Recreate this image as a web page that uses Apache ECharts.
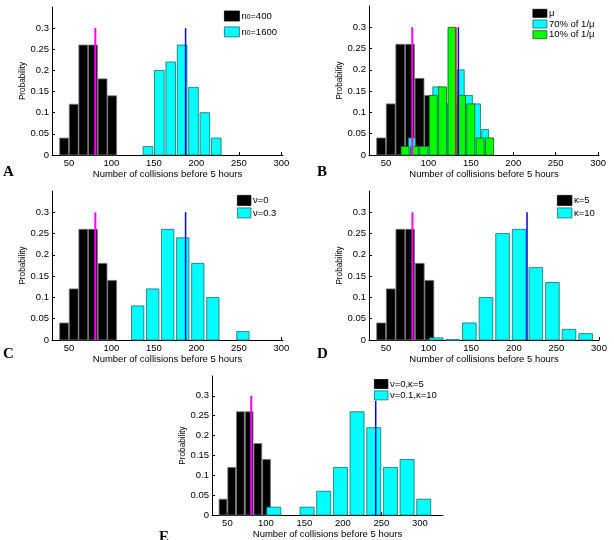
<!DOCTYPE html>
<html><head><meta charset="utf-8">
<script src="https://cdn.jsdelivr.net/npm/echarts@6/dist/echarts.min.js"></script>
<style>html,body{margin:0;padding:0;background:#fff}#c{width:614px;height:540px}</style>
</head><body><div id="c"></div>
<script>
// ---- data ----
const xTickValues = [50, 100, 150, 200, 250, 300];
const yTickValues = [0, 0.05, 0.1, 0.15, 0.2, 0.25, 0.3];

// baseline histogram (black), identical in all panels
const baseCenters = [44.3, 55.6, 66.9, 78.2, 89.5, 100.8];
const baseValues  = [0.04, 0.12, 0.26, 0.26, 0.18, 0.14];
const baseBin = 11.3;
const baseMean = 81;

// panel A
const aCenters = [143, 156.4, 169.8, 183.2, 196.6, 210, 223.4];
const aValues  = [0.02, 0.20, 0.22, 0.26, 0.16, 0.10, 0.04];
const aBin = 13.4;
const aMean = 187.3;

// panel B
const bCyanCenters = [80.5, 90.1, 99.7, 109.3, 118.9, 128.5, 138.1, 147.7, 157.3, 166.9];
const bCyanValues  = [0.04, 0.02, 0.02, 0.16, 0.12, 0.12, 0.20, 0.14, 0.12, 0.06];
const bCyanBin = 9.6;
const bGreenCenters = [72.5, 83.6, 94.6, 105.7, 116.7, 127.8, 138.9, 149.9, 161, 172];
const bGreenValues  = [0.02, 0.02, 0.02, 0.14, 0.16, 0.30, 0.14, 0.12, 0.04, 0.04];
const bGreenBin = 11.06;
const bCyanMean = 135.3;
const bGreenMean = 132.2;

// panel C
const cCenters = [130.9, 148.6, 166.3, 184, 201.7, 219.4, 237.1, 254.8];
const cValues  = [0.08, 0.12, 0.26, 0.24, 0.18, 0.10, 0, 0.02];
const cBin = 17.7;
const cMean = 187.3;

// panel D
const dCenters = [108.8, 128.3, 147.8, 167.3, 186.8, 206.3, 225.8, 245.3, 264.8, 284.3];
const dValues  = [0.005, 0.001, 0.04, 0.10, 0.25, 0.26, 0.17, 0.135, 0.025, 0.015];
const dBin = 19.5;
const dMean = 215.5;

// panel E
const eCenters = [110.2, 131.8, 153.5, 175.1, 196.8, 218.4, 240.1, 261.7, 283.4, 305];
const eValues  = [0.02, 0, 0.02, 0.06, 0.12, 0.26, 0.22, 0.12, 0.14, 0.04];
const eBin = 21.65;
const eMean = 242.6;

const lineTop = 0.3;
const eLineTop = 0.288;

// ---- chart ----
const FONT = 'Liberation Sans, Arial, Helvetica, sans-serif';
const grids = [
  {left: 52,  top: 7,   width: 231, height: 148},
  {left: 369, top: 6,   width: 230, height: 149},
  {left: 52,  top: 191, width: 231, height: 149},
  {left: 369, top: 191, width: 230, height: 149},
  {left: 212, top: 376, width: 231, height: 149}
];
const xRanges = [[30, 302], [30, 301], [30, 302], [30, 300], [30, 330]];

const xAxes = xRanges.map((r, i) => ({
  type: 'value', gridIndex: i, min: r[0], max: r[1],
  name: 'Number of collisions before 5 hours', nameLocation: 'middle', nameGap: 11,
  nameTextStyle: {fontFamily: FONT, fontSize: 9.5, color: '#000'},
  axisLine: {show: true, lineStyle: {color: '#000', width: 1}},
  axisTick: {show: true, inside: true, length: 3, customValues: xTickValues, lineStyle: {color: '#000'}},
  axisLabel: {customValues: xTickValues, fontFamily: FONT, fontSize: 9.5, color: '#000', margin: 3},
  splitLine: {show: false}
}));
const yAxes = grids.map((g, i) => ({
  type: 'value', gridIndex: i, min: 0, max: 0.35,
  name: 'Probability', nameLocation: 'middle', nameGap: 25,
  nameTextStyle: {fontFamily: FONT, fontSize: 8.2, color: '#000'},
  axisLine: {show: true, lineStyle: {color: '#000', width: 1}},
  axisTick: {show: true, inside: true, length: 3, customValues: yTickValues, lineStyle: {color: '#000'}},
  axisLabel: {customValues: yTickValues, fontFamily: FONT, fontSize: 9.5, color: '#000', margin: 3},
  splitLine: {show: false}
}));

function hist(name, centers, values, bin, frac, fill, edge, idx, z) {
  return {
    type: 'custom', name: name, xAxisIndex: idx, yAxisIndex: idx, z: z,
    silent: true,
    itemStyle: {color: fill, borderColor: edge, borderWidth: 0.8},
    data: centers.map((c, i) => [c, values[i]]),
    encode: {x: 0, y: 1},
    renderItem: function (params, api) {
      const c = api.value(0), h = api.value(1);
      if (!(h > 0)) return null;
      const p0 = api.coord([c - bin * frac / 2, 0]);
      const p1 = api.coord([c + bin * frac / 2, h]);
      return {
        type: 'rect',
        shape: {x: p0[0], y: p1[1], width: p1[0] - p0[0], height: Math.max(p0[1] - p1[1], 0.8)},
        style: {fill: fill, stroke: edge, lineWidth: 0.8}
      };
    }
  };
}
function vline(x, top, color, width, idx) {
  return {
    type: 'line', xAxisIndex: idx, yAxisIndex: idx, z: 10, silent: true,
    symbol: 'none', data: [[x, 0], [x, top]],
    lineStyle: {color: color, width: width}
  };
}

const BLACK = '#000000', CYAN = '#00ffff', CYAN_EDGE = '#1d6b6b', GREEN = '#00ff00', GREEN_EDGE = '#1b5e1b';
const names = {
  A: ['n0=400', 'n0=1600'],
  B: ['\u03bc', '70% of 1/\u03bc', '10% of 1/\u03bc'],
  C: ['\u03bd=0', '\u03bd=0.3'],
  D: ['\u03ba=5', '\u03ba=10'],
  E: ['\u03bd=0,\u03ba=5', '\u03bd=0.1,\u03ba=10']
};
const fills = [[BLACK, BLACK], [CYAN, CYAN_EDGE], [GREEN, GREEN_EDGE]];

const series = [
  hist(names.A[0], baseCenters, baseValues, baseBin, 0.93, BLACK, '#777', 0, 2),
  hist(names.A[1], aCenters, aValues, aBin, 0.85, CYAN, CYAN_EDGE, 0, 3),
  vline(baseMean, lineTop, '#ff00ff', 2, 0),
  vline(aMean, lineTop, '#0000dd', 1.5, 0),

  hist(names.B[0], baseCenters, baseValues, baseBin, 0.93, BLACK, '#777', 1, 2),
  hist(names.B[1], bCyanCenters, bCyanValues, bCyanBin, 0.85, CYAN, CYAN_EDGE, 1, 3),
  hist(names.B[2], bGreenCenters, bGreenValues, bGreenBin, 0.85, GREEN, GREEN_EDGE, 1, 4),
  vline(baseMean, lineTop, '#ff00ff', 2, 1),
  vline(bGreenMean, lineTop, '#cc2200', 1.5, 1),
  vline(bCyanMean, lineTop, '#0000dd', 1.5, 1),

  hist(names.C[0], baseCenters, baseValues, baseBin, 0.93, BLACK, '#777', 2, 2),
  hist(names.C[1], cCenters, cValues, cBin, 0.82, CYAN, CYAN_EDGE, 2, 3),
  vline(baseMean, lineTop, '#ff00ff', 2, 2),
  vline(cMean, lineTop, '#0000dd', 1.5, 2),

  hist(names.D[0], baseCenters, baseValues, baseBin, 0.93, BLACK, '#777', 3, 2),
  hist(names.D[1], dCenters, dValues, dBin, 0.82, CYAN, CYAN_EDGE, 3, 3),
  vline(baseMean, lineTop, '#ff00ff', 2, 3),
  vline(dMean, lineTop, '#0000dd', 1.5, 3),

  hist(names.E[0], baseCenters, baseValues, baseBin, 0.9, BLACK, '#777', 4, 2),
  hist(names.E[1], eCenters, eValues, eBin, 0.84, CYAN, CYAN_EDGE, 4, 3),
  vline(baseMean, lineTop, '#ff00ff', 2, 4),
  vline(eMean, eLineTop, '#0000dd', 1.5, 4)
];

function legend(data, left, top, w, h, gap) {
  return {
    data: data.map((n, i) => ({
      name: n, icon: 'rect',
      itemStyle: {color: fills[i][0], borderColor: fills[i][1], borderWidth: 0.8, opacity: 1}
    })),
    orient: 'vertical', left: left, top: top, padding: 0,
    itemWidth: w, itemHeight: h, itemGap: gap,
    selectedMode: false,
    formatter: function (n) {
      if (n.indexOf('n0') === 0) return '{t|n}{s|0}{t|' + n.slice(2) + '}';
      return '{t|' + n + '}';
    },
    textStyle: {
      fontFamily: FONT, fontSize: 9.5, color: '#000', lineHeight: 10, padding: [0, 0, 0, -3],
      rich: {
        t: {fontFamily: FONT, fontSize: 9.5, color: '#000', lineHeight: 10},
        s: {fontFamily: FONT, fontSize: 6.5, color: '#000', lineHeight: 10, padding: [5, 0, 0, 0], verticalAlign: 'bottom'}
      }
    }
  };
}

const letters = [['A', 3, 165], ['B', 317, 165], ['C', 3, 347], ['D', 317, 347], ['E', 159, 530]];

const chart = echarts.init(document.getElementById('c'), null, {renderer: 'canvas'});
chart.setOption({
  animation: false,
  backgroundColor: '#fff',
  grid: grids,
  xAxis: xAxes,
  yAxis: yAxes,
  legend: [
    legend(names.A, 224, 9, 15, 10, 3.5),
    legend(names.B, 532.5, 8.3, 14, 8, 0.7),
    legend(names.C, 237, 195, 13.5, 10, 1.7),
    legend(names.D, 557, 195, 14.5, 10, 1.7),
    legend(names.E, 374, 379, 13.5, 9, 1.4)
  ],
  graphic: letters.map(l => ({
    type: 'text', left: l[1], top: l[2], silent: true,
    style: {text: l[0], font: 'bold 15px "Liberation Serif", "DejaVu Serif", serif', fill: '#000'}
  })),
  series: series
});
</script>
</body></html>
